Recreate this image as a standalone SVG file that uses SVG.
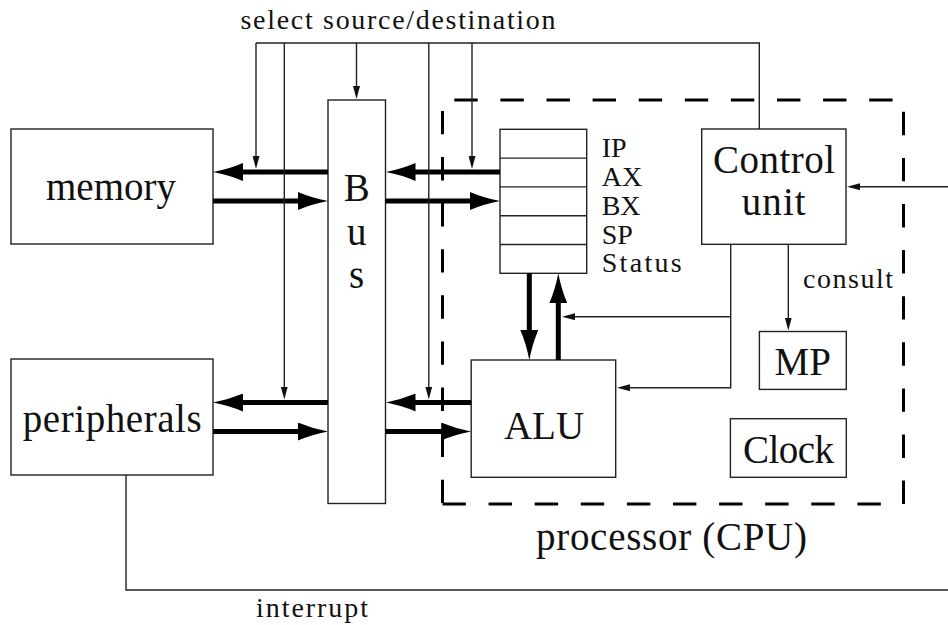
<svg xmlns="http://www.w3.org/2000/svg" width="948" height="625" viewBox="0 0 948 625">
<style>
  .box { fill: #fff; stroke: #222; stroke-width: 1.4; }
  .thin { fill: none; stroke: #222; stroke-width: 1.4; }
  .thick { fill: none; stroke: #000; stroke-width: 5; }
  .big { font-family: 'Liberation Serif', 'Times New Roman', serif; font-size: 39px; fill: #111; }
  .small { font-family: 'Liberation Serif', 'Times New Roman', serif; font-size: 28px; fill: #111; }
  .dash { fill: none; stroke: #000; stroke-width: 3; stroke-dasharray: 23.4 22.7; }
</style>
<defs>
  <marker id="big" viewBox="0 0 30 18" refX="15" refY="9" markerWidth="30" markerHeight="18" markerUnits="userSpaceOnUse" orient="auto">
    <path d="M0,0 Q14,6 30,9 Q14,12 0,18 Z" fill="#000"/>
  </marker>
  <marker id="small" viewBox="0 0 13 7" refX="7" refY="3.5" markerWidth="13" markerHeight="7" markerUnits="userSpaceOnUse" orient="auto">
    <path d="M0,0 L13,3.5 L0,7 Z" fill="#111"/>
  </marker>
</defs>
<rect width="948" height="625" fill="#fff"/>

<g id="cpu">
  <path class="dash" d="M442.5,504 H903.5 V100 H442.5 Z"/>
  <text class="big" x="536" y="550" textLength="271">processor (CPU)</text>
</g>

<g id="memory">
  <rect class="box" x="11" y="129" width="202" height="115"/>
  <text class="big" x="46" y="200" textLength="130">memory</text>
</g>

<g id="peripherals">
  <rect class="box" x="11" y="359" width="202" height="116"/>
  <text class="big" x="22.7" y="432" textLength="179">peripherals</text>
</g>

<g id="bus">
  <rect class="box" x="328" y="100" width="57.5" height="403.5"/>
  <text class="big" x="356.7" y="201" text-anchor="middle">B</text>
  <text class="big" x="356.7" y="245" text-anchor="middle">u</text>
  <text class="big" x="356.7" y="288" text-anchor="middle">s</text>
</g>

<g id="registers">
  <rect class="box" x="500" y="129.3" width="86.7" height="144"/>
  <path class="thin" d="M500,158.1 H586.7 M500,186.9 H586.7 M500,215.7 H586.7 M500,244.5 H586.7"/>
  <text class="small" x="601.7" y="157">IP</text>
  <text class="small" x="601.7" y="186">AX</text>
  <text class="small" x="601.7" y="215">BX</text>
  <text class="small" x="601.7" y="243.5">SP</text>
  <text class="small" x="601.7" y="272" textLength="80">Status</text>
</g>

<g id="control">
  <rect class="box" x="701.7" y="129" width="144.3" height="115.3"/>
  <text class="big" x="713" y="172.7" textLength="122">Control</text>
  <text class="big" x="741.7" y="215" textLength="64">unit</text>
</g>

<g id="alu">
  <rect class="box" x="471.2" y="360" width="144.5" height="117.3"/>
  <text class="big" x="544" y="439" text-anchor="middle">ALU</text>
</g>

<g id="mp">
  <rect class="box" x="759.4" y="331.5" width="86.9" height="57.9"/>
  <text class="big" x="802.8" y="375" text-anchor="middle">MP</text>
</g>

<g id="clock">
  <rect class="box" x="730.4" y="418.7" width="115.9" height="58.6"/>
  <text class="big" x="743" y="463" textLength="91">Clock</text>
</g>

<g id="labels">
  <text class="small" x="240.5" y="29" textLength="315">select source/destination</text>
  <text class="small" x="803" y="288" textLength="90">consult</text>
  <text class="small" x="256" y="617" textLength="112">interrupt</text>
</g>

<g id="connectors">
  <line class="thick" x1="328" y1="172" x2="228" y2="172" marker-end="url(#big)"/>
  <line class="thick" x1="213" y1="201" x2="313" y2="201" marker-end="url(#big)"/>
  <line class="thick" x1="500" y1="172" x2="400.5" y2="172" marker-end="url(#big)"/>
  <line class="thick" x1="385.5" y1="201" x2="485" y2="201" marker-end="url(#big)"/>
  <line class="thick" x1="328" y1="402.5" x2="228" y2="402.5" marker-end="url(#big)"/>
  <line class="thick" x1="213" y1="431.5" x2="313" y2="431.5" marker-end="url(#big)"/>
  <line class="thick" x1="471.2" y1="402.5" x2="400.5" y2="402.5" marker-end="url(#big)"/>
  <line class="thick" x1="385.5" y1="431.5" x2="456.2" y2="431.5" marker-end="url(#big)"/>
  <line class="thick" x1="529.3" y1="273.3" x2="529.3" y2="345" marker-end="url(#big)"/>
  <line class="thick" x1="558.3" y1="360" x2="558.3" y2="288.3" marker-end="url(#big)"/>

  <path class="thin" d="M759.3,129 V43 H256"/>
  <line class="thin" x1="256" y1="43" x2="256" y2="163" marker-end="url(#small)"/>
  <line class="thin" x1="284.3" y1="43" x2="284.3" y2="393.5" marker-end="url(#small)"/>
  <line class="thin" x1="356.5" y1="43" x2="356.5" y2="93" marker-end="url(#small)"/>
  <line class="thin" x1="428.8" y1="43" x2="428.8" y2="393.5" marker-end="url(#small)"/>
  <line class="thin" x1="472" y1="43" x2="472" y2="163" marker-end="url(#small)"/>

  <path class="thin" d="M730.7,244.3 V387.7 H623" marker-end="url(#small)"/>
  <line class="thin" x1="730.7" y1="316.7" x2="568" y2="316.7" marker-end="url(#small)"/>

  <line class="thin" x1="788.3" y1="244.3" x2="788.3" y2="324.5" marker-end="url(#small)"/>

  <path class="thin" d="M126,475 V590 H950"/>
  <line class="thin" x1="950" y1="186.7" x2="853" y2="186.7" marker-end="url(#small)"/>
</g>
</svg>
